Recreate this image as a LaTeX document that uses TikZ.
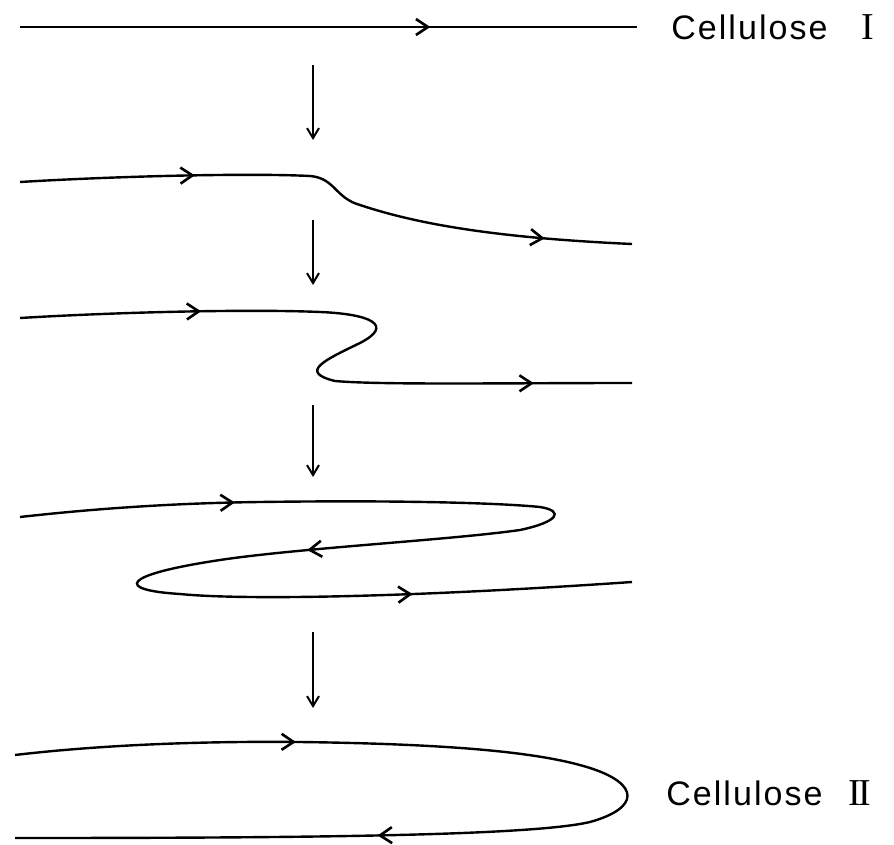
\documentclass[tikz,border=0pt]{standalone}
\usepackage{fontspec}
\setmainfont{Liberation Sans}[LetterSpace=6]
\newfontfamily\numfont{Liberation Serif}
\usetikzlibrary{arrows.meta,decorations.markings}

\begin{document}
\begin{tikzpicture}[x=0.5pt, y=-0.5pt,
  chain/.style={line width=1.2pt},
  flow/.style={postaction={decorate,decoration={markings,
    mark=at position #1 with {\arrow{Straight Barb[length=6pt,width=8pt,line width=1.3pt]}}}}},
  steparrow/.style={line width=0.7pt,-{Straight Barb[length=5pt,width=6pt,line width=1pt]}},
  label/.style={anchor=base west, inner sep=0pt, font=\fontsize{17}{20}\selectfont}]
\useasboundingbox (0,0) rectangle (894,845);

% chain ends
\coordinate (r1a) at (20,27);
\coordinate (r1b) at (637,27);

% steps between the stages
\coordinate (v1a) at (313,65);  \coordinate (v1b) at (313,140);
\coordinate (v2a) at (313,220); \coordinate (v2b) at (313,285);
\coordinate (v3a) at (313,405); \coordinate (v3b) at (313,477);
\coordinate (v4a) at (313,632); \coordinate (v4b) at (313,708);

% labels
\node[label] (cellI) at (671,40) {Cellulose\hspace{17pt}{\numfont\fontsize{19}{20}\selectfont I}};
\node[label] (cellII) at (666,805) {Cellulose\hspace{13pt}{\numfont\fontsize{19}{20}\selectfont I\kern-1.5pt I}};

% stage 1
\draw[chain, flow=0.665] (r1a) -- (r1b);

% stage 2
\draw[chain, flow=0.28, flow=0.86] (20,182) .. controls (120,176) and (250,173) .. (310,176)
  .. controls (335,178) and (335,198) .. (360,205)
  .. controls (420,225) and (500,238) .. (632,244);

% stage 3
\draw[chain, flow=0.24, flow=0.87] (20,318) .. controls (120,312) and (250,309) .. (320,312)
  .. controls (370,314) and (395,325) .. (360,343)
  .. controls (325,360) and (298,372) .. (335,381)
  .. controls (380,385) and (500,383) .. (632,383);

% stage 4
\draw[chain, flow=0.147, flow=0.54, flow=0.85] (20,517) .. controls (100,508) and (180,503) .. (260,502)
  .. controls (400,500) and (500,503) .. (540,507)
  .. controls (565,511) and (558,522) .. (520,530)
  .. controls (450,540) and (300,548) .. (220,560)
  .. controls (120,575) and (115,590) .. (180,594)
  .. controls (240,600) and (400,598) .. (632,582);

% stage 5
\draw[chain, flow=0.225, flow=0.71] (15,755) .. controls (100,745) and (200,741) .. (300,742)
  .. controls (450,744) and (540,752) .. (590,768)
  .. controls (640,784) and (640,808) .. (590,822)
  .. controls (530,836) and (300,838) .. (15,838);

\draw[steparrow] (v1a) -- (v1b);
\draw[steparrow] (v2a) -- (v2b);
\draw[steparrow] (v3a) -- (v3b);
\draw[steparrow] (v4a) -- (v4b);
\end{tikzpicture}
\end{document}
